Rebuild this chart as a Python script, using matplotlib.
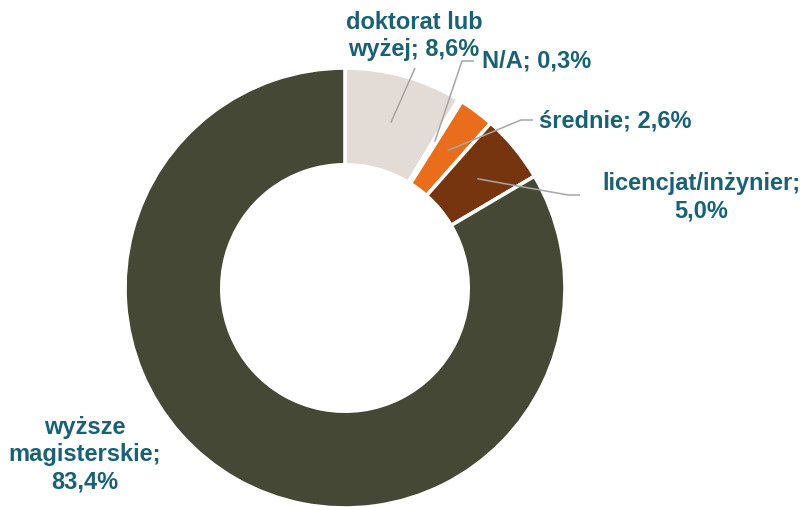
import numpy as np
import matplotlib
matplotlib.use("Agg")
import matplotlib.pyplot as plt

# Education level breakdown
categories = ["doktorat lub wyżej", "N/A", "średnie", "licencjat/inżynier", "wyższe magisterskie"]
values = [8.6, 0.3, 2.6, 5.0, 83.4]
value_labels = ["8,6%", "0,3%", "2,6%", "5,0%", "83,4%"]
colors = ["#E3DBD5", "#EEEBE8", "#E96D1A", "#76350F", "#464836"]

W, H = 808, 507
fig = plt.figure(figsize=(W / 100, H / 100), dpi=100)
ax = fig.add_axes([0, 0, 1, 1])

cx, cy, R = 345, H - 288, 220
wedges, _ = ax.pie(values, colors=colors, startangle=90, counterclock=False,
                   radius=R, center=(cx, cy), frame=True,
                   wedgeprops=dict(width=R * 0.44, edgecolor="white", linewidth=2.6))
ax.set_xlim(0, W)
ax.set_ylim(0, H)
ax.set_aspect("equal")
ax.axis("off")

txt_color = "#1A6174"
font = dict(family=["Liberation Sans", "DejaVu Sans"], fontsize=17,
            fontweight="bold", color=txt_color, linespacing=1.24)
line_col = "#A6A6A6"

# (label text, text position, text alignment, leader elbow points or None)
label_specs = [
    ("doktorat lub\nwyżej; " + value_labels[0], (414, H - 36), "center", [(415, H - 68)]),
    ("N/A; " + value_labels[1], (482, H - 61), "left", [(462, H - 61), (474, H - 61)]),
    ("średnie; " + value_labels[2], (539, H - 121), "left", [(521, H - 120), (533, H - 120)]),
    ("licencjat/inżynier;\n" + value_labels[3], (701, H - 197), "center", [(568, H - 195), (580, H - 195)]),
    ("wyższe\nmagisterskie;\n" + value_labels[4], (85, H - 455), "center", None),
]

for w, (text, (tx, ty), ha, pts) in zip(wedges, label_specs):
    if pts is not None:
        mid = np.deg2rad((w.theta1 + w.theta2) / 2)
        r0 = R * 0.78
        xs = [cx + r0 * np.cos(mid)] + [p[0] for p in pts]
        ys = [cy + r0 * np.sin(mid)] + [p[1] for p in pts]
        ax.plot(xs, ys, color=line_col, lw=1.1, solid_capstyle="butt")
    ax.text(tx, ty, text, ha=ha, va="center", multialignment="center", **font)

fig.savefig("out.png", dpi=100)
